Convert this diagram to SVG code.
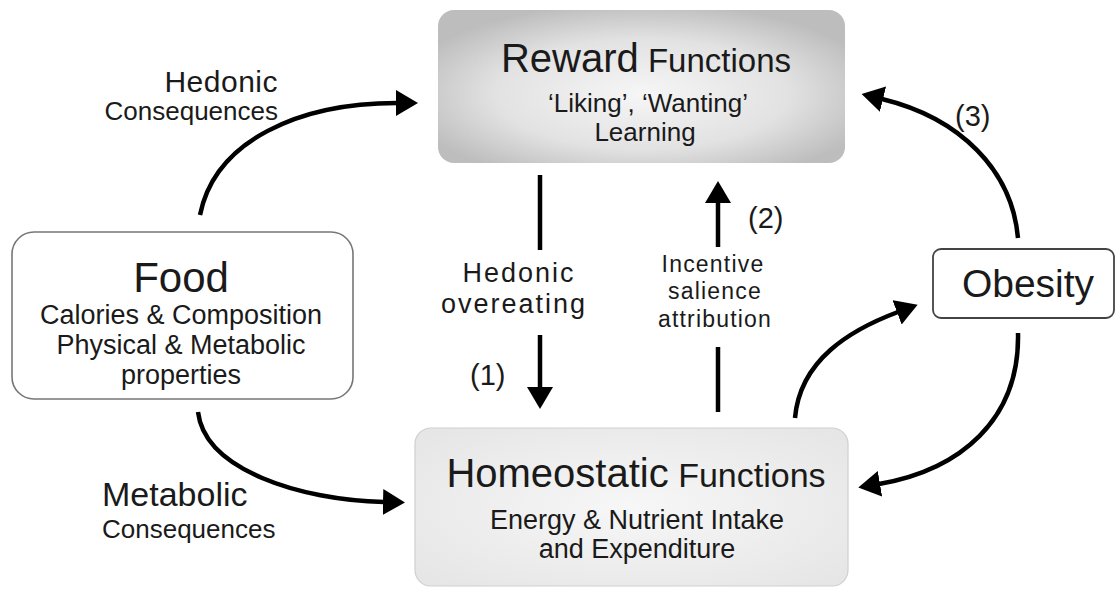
<svg xmlns="http://www.w3.org/2000/svg" width="1117" height="589" viewBox="0 0 1117 589">
<style>
text{font-family:"Liberation Sans",Arial,sans-serif;fill:#1a1a1a}
.c{text-anchor:middle}
.conn{fill:none;stroke:#000;stroke-width:4.5}
</style>
<defs>
<radialGradient id="gR" cx="50%" cy="55%" r="60%">
<stop offset="0" stop-color="#f6f6f6"/>
<stop offset="0.6" stop-color="#e2e2e2"/>
<stop offset="1" stop-color="#bdbdbd"/>
</radialGradient>
<radialGradient id="gH" cx="50%" cy="50%" r="65%">
<stop offset="0" stop-color="#f7f7f7"/>
<stop offset="1" stop-color="#e6e6e6"/>
</radialGradient>
<marker id="ah" viewBox="0 0 22 26" refX="1" refY="13" markerWidth="22" markerHeight="26" markerUnits="userSpaceOnUse" orient="auto">
<path d="M0,0 L22,13 L0,26 z" fill="#000"/>
</marker>
</defs>
<rect width="1117" height="589" fill="#fff"/>

<g id="reward">
<rect x="438" y="10" width="407" height="153" rx="16" fill="url(#gR)"/>
<text class="c" x="646" y="72" font-size="40">Reward<tspan font-size="33"> Functions</tspan></text>
<text class="c" x="648" y="112" font-size="26">‘Liking’, ‘Wanting’</text>
<text class="c" x="645" y="141" font-size="26">Learning</text>
</g>

<g id="food">
<rect x="12" y="232" width="341" height="167" rx="22" fill="#fff" stroke="#777" stroke-width="1.6"/>
<text class="c" x="181" y="292" font-size="42">Food</text>
<text class="c" x="181" y="324" font-size="27">Calories &amp; Composition</text>
<text class="c" x="181" y="354" font-size="27">Physical &amp; Metabolic</text>
<text class="c" x="181" y="384" font-size="27">properties</text>
</g>

<g id="homeostatic">
<rect x="415" y="428" width="433" height="158" rx="16" fill="url(#gH)" stroke="#cfcfcf" stroke-width="1.2"/>
<text class="c" x="636" y="487" font-size="40">Homeostatic<tspan font-size="34"> Functions</tspan></text>
<text class="c" x="637" y="529" font-size="27">Energy &amp; Nutrient  Intake</text>
<text class="c" x="637" y="558" font-size="27">and Expenditure</text>
</g>

<g id="obesity">
<rect x="933" y="249" width="181" height="69" rx="8" fill="#fff" stroke="#444" stroke-width="1.8"/>
<text class="c" x="1028" y="297" font-size="39">Obesity</text>
</g>

<g id="connectors">
<path class="conn" d="M200,215 C215,140 300,103 397,103" marker-end="url(#ah)"/>
<path class="conn" d="M198,412 C205,470 300,500 384,502" marker-end="url(#ah)"/>
<path class="conn" d="M540,175 L540,250"/>
<path class="conn" d="M540,335 L540,388" marker-end="url(#ah)"/>
<path class="conn" d="M718,412 L718,347"/>
<path class="conn" d="M718,247 L718,202" marker-end="url(#ah)"/>
<path class="conn" d="M1018,238 C1012,170 960,118 882,99" marker-end="url(#ah)"/>
<path class="conn" d="M795,418 C800,360 850,330 898,312" marker-end="url(#ah)"/>
<path class="conn" d="M1018,333 C1020,420 960,470 879,484" marker-end="url(#ah)"/>
</g>

<g id="labels">
<text x="278" y="92" font-size="30" letter-spacing="0.5" text-anchor="end">Hedonic</text>
<text x="278" y="120" font-size="26" text-anchor="end">Consequences</text>
<text x="102" y="506" font-size="34">Metabolic</text>
<text x="102" y="538" font-size="26">Consequences</text>
<text class="c" x="519" y="282" font-size="27" letter-spacing="2">Hedonic</text>
<text class="c" x="514" y="313" font-size="27" letter-spacing="2">overeating</text>
<text x="470" y="385" font-size="29">(1)</text>
<text class="c" x="713" y="272" font-size="23" letter-spacing="1.2">Incentive</text>
<text class="c" x="715" y="299" font-size="23" letter-spacing="1.2">salience</text>
<text class="c" x="715" y="327" font-size="23" letter-spacing="1.2">attribution</text>
<text x="748" y="228" font-size="29">(2)</text>
<text x="955" y="126" font-size="29">(3)</text>
</g>
</svg>
